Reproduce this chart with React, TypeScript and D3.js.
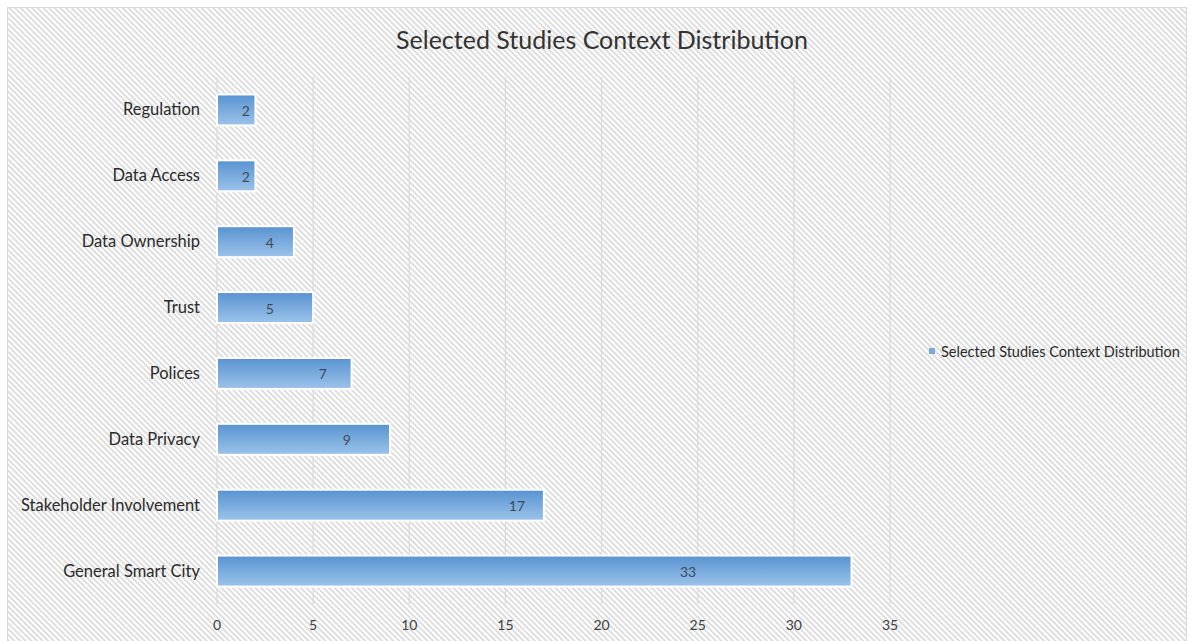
import React from "react";
import * as d3 from "d3";

const categories = [
  "Regulation",
  "Data Access",
  "Data Ownership",
  "Trust",
  "Polices",
  "Data Privacy",
  "Stakeholder Involvement",
  "General Smart City",
];
const values = [2, 2, 4, 5, 7, 9, 17, 33];
// where each data label sits, in value units (as placed in the original)
const labelAt = [1.5, 1.5, 2.75, 2.75, 5.5, 6.75, 15.6, 24.5];
const xTicks = [0, 5, 10, 15, 20, 25, 30, 35];
const title = "Selected Studies Context Distribution";
const seriesName = "Selected Studies Context Distribution";

const W = 1194;
const H = 641;
const FONT = "Lato, 'Open Sans', 'Noto Sans', sans-serif";

export default function App() {
  const x = d3.scaleLinear().domain([0, 35]).range([217, 890]);
  const y = d3
    .scaleBand<string>()
    .domain(categories)
    .range([77, 604])
    .paddingInner(0.53)
    .paddingOuter(0.265);

  return (
    <svg
      width={W}
      height={H}
      style={{ position: "absolute", left: 0, top: 0, display: "block" }}
    >
      <defs>
        <pattern
          id="hatch"
          patternUnits="userSpaceOnUse"
          width={4}
          height={4}
          patternTransform="rotate(-45)"
        >
          <rect width={4} height={4} fill="#ffffff" />
          <line x1={1} y1={0} x2={1} y2={4} stroke="#d6d6d6" strokeWidth={1.6} />
        </pattern>
        <linearGradient id="barGrad" x1="0" y1="0" x2="0" y2="1">
          <stop offset="0%" stopColor="#5893d1" />
          <stop offset="100%" stopColor="#9cc3ea" />
        </linearGradient>
      </defs>
      <rect x={0} y={0} width={W} height={H} fill="#ffffff" />
      <rect
        x={7.5}
        y={7.5}
        width={1179}
        height={660}
        fill="url(#hatch)"
        stroke="#d9d9d9"
        strokeWidth={1}
      />
      <text
        x={602}
        y={49}
        textAnchor="middle"
        fontFamily={FONT}
        fontSize={25}
        fill="#333333"
      >
        {title}
      </text>

      {/* gridlines */}
      {xTicks.map((t) => (
        <line
          key={"g" + t}
          x1={x(t)}
          x2={x(t)}
          y1={77}
          y2={604}
          stroke="#dadada"
          strokeWidth={1.2}
        />
      ))}

      {/* bars */}
      {categories.map((c, i) => (
        <rect
          key={"b" + c}
          x={x(0)}
          y={y(c)!}
          width={x(values[i]) - x(0)}
          height={y.bandwidth()}
          fill="url(#barGrad)"
          stroke="#ffffff"
          strokeWidth={2}
        />
      ))}

      {/* data labels */}
      {categories.map((c, i) => (
        <text
          key={"l" + c}
          x={x(labelAt[i])}
          y={y(c)! + y.bandwidth() / 2 + 6}
          textAnchor="middle"
          fontFamily={FONT}
          fontSize={14}
          fill="#404a5a"
        >
          {values[i]}
        </text>
      ))}

      {/* category labels */}
      {categories.map((c) => (
        <text
          key={"c" + c}
          x={200}
          y={y(c)! + y.bandwidth() / 2 + 5.5}
          textAnchor="end"
          fontFamily={FONT}
          fontSize={16.5}
          fill="#2b2b2b"
        >
          {c}
        </text>
      ))}

      {/* x tick labels */}
      {xTicks.map((t) => (
        <text
          key={"t" + t}
          x={x(t)}
          y={630}
          textAnchor="middle"
          fontFamily={FONT}
          fontSize={14}
          fill="#404040"
        >
          {t}
        </text>
      ))}

      {/* legend */}
      <rect x={929} y={348} width={6} height={6} fill="#7aa9dc" />
      <text x={941} y={356.5} fontFamily={FONT} fontSize={14.5} fill="#2b2b2b">
        {seriesName}
      </text>
    </svg>
  );
}
